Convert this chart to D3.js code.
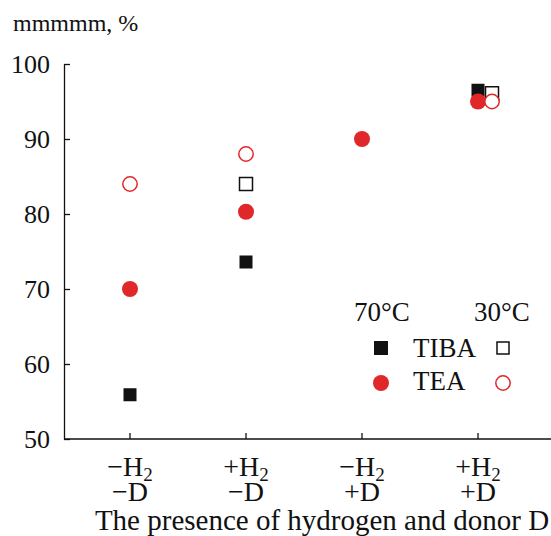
<!DOCTYPE html>
<html>
<head>
<meta charset="utf-8">
<script src="https://cdn.jsdelivr.net/npm/d3@7"></script>
<style>
  body { margin: 0; background: #fff; }
  text { font-family: "Liberation Serif", "Times New Roman", serif; fill: #111; }
</style>
</head>
<body>
<script>
'use strict';

// categories (first line / second line of tick label)
const catH2 = ["\u2212H", "+H", "\u2212H", "+H"];
const catD = ["\u2212D", "\u2212D", "+D", "+D"];
const yTicks = [50, 60, 70, 80, 90, 100];

// values per category, null = no point
const tiba70 = [55.9, 73.6, null, 96.5];
const tiba30 = [null, 84, null, 96.1];
const tea70 = [70, 80.3, 90, 95];
const tea30 = [84, 88, null, 95];

const W = 551, H = 536;
const red = "#e0282a", black = "#111";

const svg = d3.select("body").append("svg")
  .attr("width", W).attr("height", H);

const x = d3.scalePoint()
  .domain(d3.range(catH2.length))
  .range([130, 478]);

const y = d3.scaleLinear()
  .domain([50, 100])
  .range([439, 64]);

// axes, ticks pointing inward
const yAxis = d3.axisLeft(y).tickValues(yTicks).tickSizeInner(-6).tickSizeOuter(0).tickPadding(14);
const gy = svg.append("g").attr("transform", "translate(64,0)").call(yAxis);
gy.select(".domain").attr("stroke", black).attr("stroke-width", 1.3);
gy.selectAll(".tick line").attr("stroke", black).attr("stroke-width", 1.3);
gy.selectAll(".tick text").attr("font-size", 26).attr("fill", black)
  .style("font-family", "Liberation Serif");

svg.append("line")
  .attr("x1", 64).attr("x2", W).attr("y1", y(50)).attr("y2", y(50))
  .attr("stroke", black).attr("stroke-width", 1.3);

const xt = svg.selectAll(".xt").data(d3.range(catH2.length)).enter().append("g")
  .attr("transform", i => `translate(${x(i)},${y(50)})`);
xt.append("line").attr("y1", 0).attr("y2", -6).attr("stroke", black).attr("stroke-width", 1.3);
const l1 = xt.append("text").attr("y", 37).attr("text-anchor", "middle").attr("font-size", 28);
l1.append("tspan").text(i => catH2[i]);
l1.append("tspan").text("2").attr("font-size", 19).attr("dy", 5);
xt.append("text").attr("y", 62).attr("text-anchor", "middle").attr("font-size", 28)
  .text(i => catD[i]);

svg.append("text").attr("x", 322).attr("y", 530).attr("text-anchor", "middle")
  .attr("font-size", 29).text("The presence of hydrogen and donor D");
svg.append("text").attr("x", 13).attr("y", 31).attr("font-size", 24).text("mmmmm, %");

// 30°C points dodge right where they overlap the 70°C ones
const dodge = (i, v, other) => (other[i] != null && Math.abs(other[i] - v) < 2) ? 14 : 0;

function squares(vals, filled, other) {
  const s = 13;
  svg.append("g").selectAll("rect")
    .data(vals.map((v, i) => ({ v, i })).filter(d => d.v != null))
    .enter().append("rect")
    .attr("x", d => x(d.i) + (other ? dodge(d.i, d.v, other) : 0) - s / 2)
    .attr("y", d => y(d.v) - s / 2)
    .attr("width", s).attr("height", s)
    .attr("fill", filled ? black : "#fff")
    .attr("stroke", black).attr("stroke-width", filled ? 0 : 1.5);
}
function circles(vals, filled, other) {
  svg.append("g").selectAll("circle")
    .data(vals.map((v, i) => ({ v, i })).filter(d => d.v != null))
    .enter().append("circle")
    .attr("cx", d => x(d.i) + (other ? dodge(d.i, d.v, other) : 0))
    .attr("cy", d => y(d.v))
    .attr("r", filled ? 8 : 7.2)
    .attr("fill", filled ? red : "#fff")
    .attr("stroke", red).attr("stroke-width", filled ? 0 : 1.5);
}

squares(tiba70, true);
squares(tiba30, false, tiba70);
circles(tea70, true);
circles(tea30, false, tea70);

// legend
const lg = svg.append("g");
lg.append("text").attr("x", 354).attr("y", 321).attr("font-size", 27).text("70\u00B0C");
lg.append("text").attr("x", 474).attr("y", 321).attr("font-size", 27).text("30\u00B0C");
lg.append("rect").attr("x", 374).attr("y", 341).attr("width", 14).attr("height", 14).attr("fill", black);
lg.append("rect").attr("x", 497).attr("y", 342).attr("width", 12).attr("height", 12)
  .attr("fill", "#fff").attr("stroke", black).attr("stroke-width", 1.5);
lg.append("text").attr("x", 413).attr("y", 357).attr("font-size", 27).text("TIBA");
lg.append("circle").attr("cx", 381).attr("cy", 383).attr("r", 8).attr("fill", red);
lg.append("circle").attr("cx", 503).attr("cy", 383).attr("r", 7.2).attr("fill", "#fff")
  .attr("stroke", red).attr("stroke-width", 1.5);
lg.append("text").attr("x", 413).attr("y", 390).attr("font-size", 27).text("TEA");
</script>
</body>
</html>
